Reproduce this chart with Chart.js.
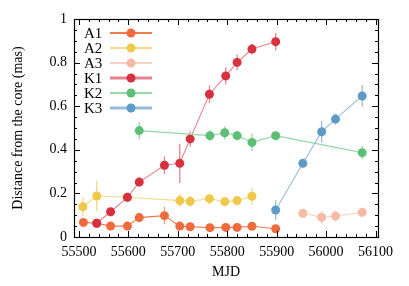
<!DOCTYPE html>
<html><head><meta charset="utf-8">
<script src="https://cdn.jsdelivr.net/npm/chart.js@4"></script>
<style>html,body{margin:0;padding:0;background:#fff}#wrap{width:409px;height:286px}</style>
</head><body><div id="wrap"><canvas id="c" width="409" height="286"></canvas></div>
<script>
const seriesNames = ['A1','A2','A3','K1','K2','K3'];
const mjdA1 = [55509,55536,55564,55598,55622,55673,55704,55725,55765,55797,55820,55850,55898];
const distA1 = [0.067,0.063,0.050,0.050,0.089,0.098,0.050,0.047,0.043,0.044,0.044,0.049,0.038];
const errA1 = [0.015,0.015,0.012,0.012,0.02,0.04,0.012,0.01,0.01,0.012,0.01,0.012,0.012];
const mjdA2 = [55508,55536,55598,55704,55725,55764,55795,55820,55850];
const distA2 = [0.139,0.188,0.182,0.167,0.164,0.176,0.162,0.167,0.187];
const errA2 = [0.045,0.07,0.02,0.03,0.025,0.025,0.02,0.02,0.04];
const mjdA3 = [55953,55991,56019,56073];
const distA3 = [0.109,0.090,0.096,0.113];
const errA3 = [0.02,0.03,0.025,0.02];
const mjdK1 = [55536,55564,55598,55622,55673,55704,55725,55764,55797,55820,55850,55898];
const distK1 = [0.063,0.116,0.182,0.252,0.329,0.338,0.450,0.655,0.739,0.801,0.862,0.896];
const errK1 = [0.015,0.015,0.015,0.02,0.04,0.09,0.035,0.04,0.04,0.035,0.025,0.04];
const mjdK2 = [55622,55765,55795,55820,55850,55898,56073];
const distK2 = [0.488,0.465,0.478,0.465,0.434,0.465,0.387];
const errK2 = [0.04,0.025,0.03,0.02,0.04,0.015,0.03];
const mjdK3 = [55898,55953,55991,56019,56073];
const distK3 = [0.124,0.338,0.483,0.541,0.647];
const errK3 = [0.045,0.015,0.05,0.025,0.05];
const xTicks = [55500,55600,55700,55800,55900,56000,56100];
const yTicks = [0,0.2,0.4,0.6,0.8,1];

const pointColors = ['#f06a3c','#f0c84a','#f7bba5','#d7303f','#5cbf75','#5f9ac6'];
const lineColors  = ['#f07a50','#f5d98c','#f9d2c3','#e58490','#96d7a6','#98bdd8'];
const errColors   = ['#f49a78','#f5d98c','#f9cdbd','#e58490','#96d7a6','#98bdd8'];
const allMjd = [mjdA1,mjdA2,mjdA3,mjdK1,mjdK2,mjdK3];
const allDist = [distA1,distA2,distA3,distK1,distK2,distK3];
const allErr = [errA1,errA2,errA3,errK1,errK2,errK3];

const FONT = 'Liberation Serif';

const datasets = seriesNames.map((n,i)=>({
  label:n,
  data: allMjd[i].map((x,j)=>({x:x,y:allDist[i][j]})),
  errs: allErr[i],
  borderColor: lineColors[i],
  backgroundColor: pointColors[i],
  pointBackgroundColor: pointColors[i],
  pointBorderColor: pointColors[i],
  pointRadius: 4.5,
  pointBorderWidth: 0,
  borderWidth: 1.1,
  showLine: true,
  tension: 0,
  order: 6 - i,
  errColor: errColors[i]
}));

const framePlugin = {
  id:'frame',
  beforeDatasetsDraw(chart){
    const ctx = chart.ctx;
    const xs = chart.scales.x, ys = chart.scales.y;
    ctx.save();
    ctx.lineWidth = 1.3;
    chart.data.datasets.forEach((ds,i)=>{
      ctx.strokeStyle = ds.errColor;
      ds.data.forEach((p,j)=>{
        const px = xs.getPixelForValue(p.x);
        ctx.beginPath();
        ctx.moveTo(px, ys.getPixelForValue(p.y - ds.errs[j]));
        ctx.lineTo(px, ys.getPixelForValue(p.y + ds.errs[j]));
        ctx.stroke();
      });
    });
    ctx.restore();
  },
  afterDraw(chart){
    const ctx = chart.ctx;
    const a = chart.chartArea;
    const xs = chart.scales.x, ys = chart.scales.y;
    ctx.save();
    ctx.strokeStyle = '#000';
    ctx.lineWidth = 1;
    ctx.beginPath();
    for (let v = 55500; v <= 56100; v += 20) {
      const px = Math.round(xs.getPixelForValue(v)) + 0.5;
      const len = (v % 100 === 0) ? 6 : 3;
      ctx.moveTo(px, a.bottom); ctx.lineTo(px, a.bottom - len);
      ctx.moveTo(px, a.top); ctx.lineTo(px, a.top + len);
    }
    for (let k = 0; k <= 20; k++) {
      const v = k * 0.05;
      const py = Math.round(ys.getPixelForValue(v)) + 0.5;
      const len = (k % 4 === 0) ? 6 : 3;
      ctx.moveTo(a.left, py); ctx.lineTo(a.left + len, py);
      ctx.moveTo(a.right, py); ctx.lineTo(a.right - len, py);
    }
    ctx.stroke();
    ctx.lineWidth = 1.2;
    ctx.strokeRect(Math.round(a.left)+0.5, Math.round(a.top)+0.5, Math.round(a.right-a.left), Math.round(a.bottom-a.top));
    ctx.font = '15px "' + FONT + '"';
    ctx.textBaseline = 'middle';
    ctx.textAlign = 'left';
    chart.data.datasets.forEach((ds,i)=>{
      const y = 33 + i * 15;
      ctx.fillStyle = '#000';
      ctx.fillText(ds.label, 84, y + 1);
      ctx.strokeStyle = ds.borderColor;
      ctx.lineWidth = (i===3||i===5) ? 3 : 2;
      ctx.beginPath(); ctx.moveTo(110, y); ctx.lineTo(152, y); ctx.stroke();
      ctx.fillStyle = ds.pointBackgroundColor;
      ctx.beginPath(); ctx.arc(131, y, 4.5, 0, Math.PI*2); ctx.fill();
    });
    ctx.restore();
  }
};

new Chart(document.getElementById('c'), {
  type:'scatter',
  data:{datasets},
  options:{
    responsive:false,
    animation:false,
    devicePixelRatio:1,
    layout:{padding:{left:0, top:19, right:31, bottom:0}},
    plugins:{legend:{display:false}, tooltip:{enabled:false}},
    scales:{
      x:{
        type:'linear', min:55490, max:56105,
        afterBuildTicks(s){ s.ticks = xTicks.map(v=>({value:v})); },
        afterFit(s){ s.height = 49; },
        grid:{display:false, drawTicks:false},
        border:{display:false},
        ticks:{color:'#000', font:{family:FONT, size:14}, padding:7, maxRotation:0, autoSkip:false, callback:v=>String(v)},
        title:{display:true, text:'MJD', color:'#000', font:{family:FONT, size:14}, padding:{top:4,bottom:5}}
      },
      y:{
        type:'linear', min:0, max:1,
        afterBuildTicks(s){ s.ticks = yTicks.map(v=>({value:v})); },
        afterFit(s){ s.width = 74; },
        grid:{display:false, drawTicks:false},
        border:{display:false},
        ticks:{color:'#000', font:{family:FONT, size:14}, padding:7, autoSkip:false, callback:v=>String(Math.round(v*10)/10)},
        title:{display:true, text:'Distance from the core (mas)', color:'#000', font:{family:FONT, size:14}, padding:{top:10,bottom:4}}
      }
    }
  },
  plugins:[framePlugin]
});
</script></body></html>
